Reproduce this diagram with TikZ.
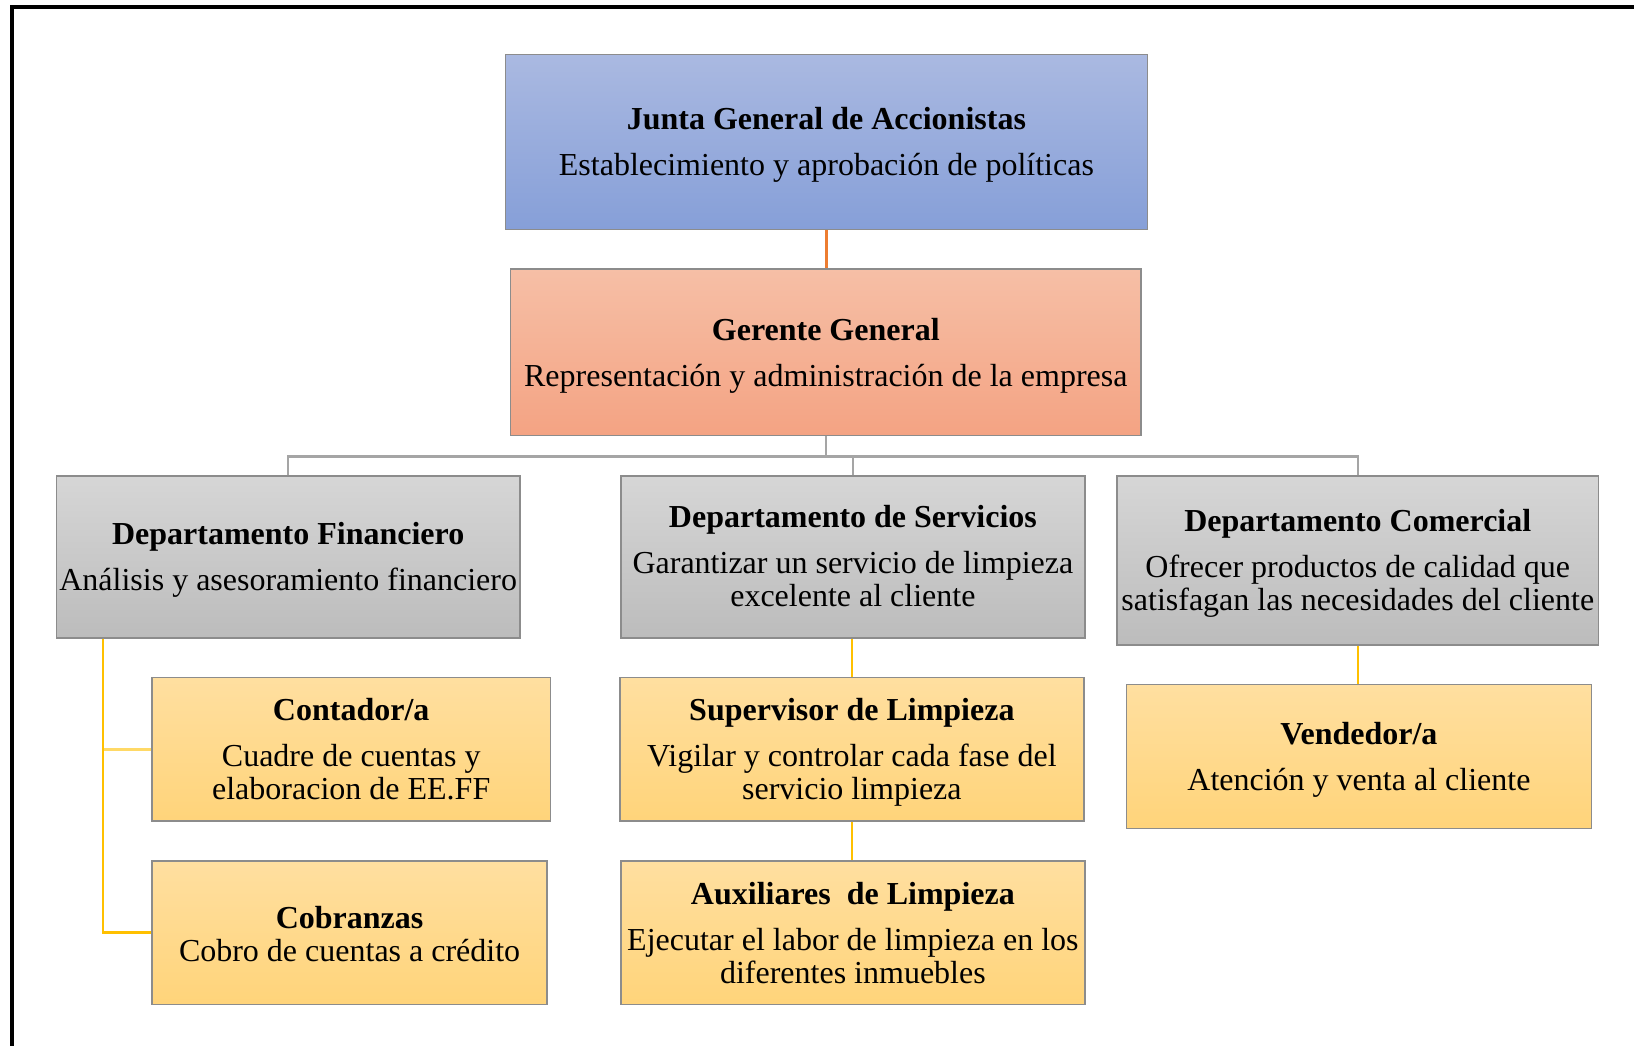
\documentclass[tikz,border=0pt]{standalone}
\usepackage{fontspec}
\setmainfont{Liberation Serif}
\definecolor{bluetop}{HTML}{AAB9E1}
\definecolor{bluebot}{HTML}{869FD8}
\definecolor{orgtop}{HTML}{F6BFA6}
\definecolor{orgbot}{HTML}{F4A383}
\definecolor{graytop}{HTML}{D6D6D6}
\definecolor{graybot}{HTML}{BCBCBC}
\definecolor{yeltop}{HTML}{FFDFA0}
\definecolor{yelbot}{HTML}{FFD47A}
\definecolor{boxline}{HTML}{8C8C8C}
\definecolor{linegray}{HTML}{A5A5A5}
\definecolor{lineorange}{HTML}{ED7D31}
\definecolor{lineyellow}{HTML}{FFC000}
\definecolor{lineyellowlight}{HTML}{FFD966}
\begin{document}
\begin{tikzpicture}[x=1pt,y=-1pt,
  box/.style={draw=boxline, line width=1.5pt, rectangle, inner sep=0pt},
  boxtext/.style={inner sep=0pt, align=center, font=\fontsize{32}{33}\selectfont},
  bluebox/.style={box, top color=bluetop, bottom color=bluebot},
  orgbox/.style={box, top color=orgtop, bottom color=orgbot},
  graybox/.style={box, top color=graytop, bottom color=graybot},
  yelbox/.style={box, top color=yeltop, bottom color=yelbot},
  graylink/.style={draw=linegray, line width=2.5pt},
  orglink/.style={draw=lineorange, line width=2.5pt},
  yellink/.style={draw=lineyellow, line width=2.5pt},
  yellinklight/.style={draw=lineyellowlight, line width=2.5pt},
  frameline/.style={draw=black, line width=4.5pt}
]
\useasboundingbox (0,0) rectangle (1634,1045);
\fill[white] (0,0) rectangle (1634,1045);

% frame
\coordinate (fbl) at (12,1050);
\coordinate (ftr) at (1640,7);
\draw[frameline] (fbl) |- (ftr);

% boxes
\node[bluebox, minimum width=642pt, minimum height=175pt] (junta) at (826.4,141.75) {};
\node[orgbox, minimum width=630.4pt, minimum height=166.7pt] (gerente) at (825.8,352.25) {};
\node[graybox, minimum width=463.7pt, minimum height=161.6pt] (fin) at (288.2,557) {};
\node[graybox, minimum width=463.8pt, minimum height=161.6pt] (serv) at (852.9,557) {};
\node[graybox, minimum width=481.6pt, minimum height=168.8pt] (com) at (1357.8,560.6) {};
\node[yelbox, minimum width=398.1pt, minimum height=143.8pt] (cont) at (351.2,749.3) {};
\node[yelbox, minimum width=395pt, minimum height=143.8pt] (cob) at (349.6,932.7) {};
\node[yelbox, minimum width=463.8pt, minimum height=143.8pt] (sup) at (851.9,749.3) {};
\node[yelbox, minimum width=463.8pt, minimum height=143.8pt] (aux) at (852.9,932.7) {};
\node[yelbox, minimum width=464.8pt, minimum height=143.8pt] (vend) at (1358.9,756.6) {};

% texts
\node[boxtext] (juntat) at ([yshift=-3pt]junta.center)
  {\textbf{Junta General de Accionistas}\\[13pt]Establecimiento y aprobación de políticas};
\node[boxtext] (gerentet) at ([yshift=-3.5pt]gerente.center)
  {\textbf{Gerente General}\\[13pt]Representación y administración de la empresa};
\node[boxtext] (fint) at ([yshift=-3pt]fin.center)
  {\textbf{Departamento Financiero}\\[13pt]Análisis y asesoramiento financiero};
\node[boxtext] (servt) at ([yshift=1pt]serv.center)
  {\textbf{Departamento de Servicios}\\[13pt]Garantizar un servicio de limpieza\\excelente al cliente};
\node[boxtext] (comt) at ([yshift=-3pt]com.center)
  {\textbf{Departamento Comercial}\\[13pt]Ofrecer productos de calidad que\\satisfagan las necesidades del cliente};
\node[boxtext] (contt) at (cont.center)
  {\textbf{Contador/a}\\[13pt]Cuadre de cuentas y\\elaboracion de EE.FF};
\node[boxtext] (cobt) at ([yshift=-1pt]cob.center)
  {\textbf{Cobranzas}\\Cobro de cuentas a crédito};
\node[boxtext] (supt) at ([yshift=-3pt]sup.center)
  {\textbf{Supervisor de Limpieza}\\[13pt]Vigilar y controlar cada fase del\\servicio limpieza};
\node[boxtext] (auxt) at (aux.center)
  {\textbf{Auxiliares\ \ de Limpieza}\\[13pt]Ejecutar el labor de limpieza en los\\diferentes inmuebles};
\node[boxtext] (vendt) at ([yshift=-3pt]vend.center)
  {\textbf{Vendedor/a}\\[13pt]Atención y venta al cliente};

% connectors
\coordinate (bus) at (826.4,456.4);
\coordinate (fx) at (103.2,0);
\draw[orglink] (junta.south) -- (junta.south |- gerente.north);
\draw[graylink] (gerente.south) -- (gerente.south |- bus);
\draw[graylink] (fin.north) |- (com.north |- bus) -- (com.north);
\draw[graylink] (serv.north) -- (serv.north |- bus);
\draw[yellinklight] (fin.south -| fx) |- (cont.west);
\draw[yellink] (fin.south -| fx |- cont.west) |- (cob.west);
\draw[yellink] (sup.north |- serv.south) -- (sup.north);
\draw[yellink] (sup.south) -- (sup.south |- aux.north);
\draw[yellink] (com.south) -- (com.south |- vend.north);
\end{tikzpicture}
\end{document}
